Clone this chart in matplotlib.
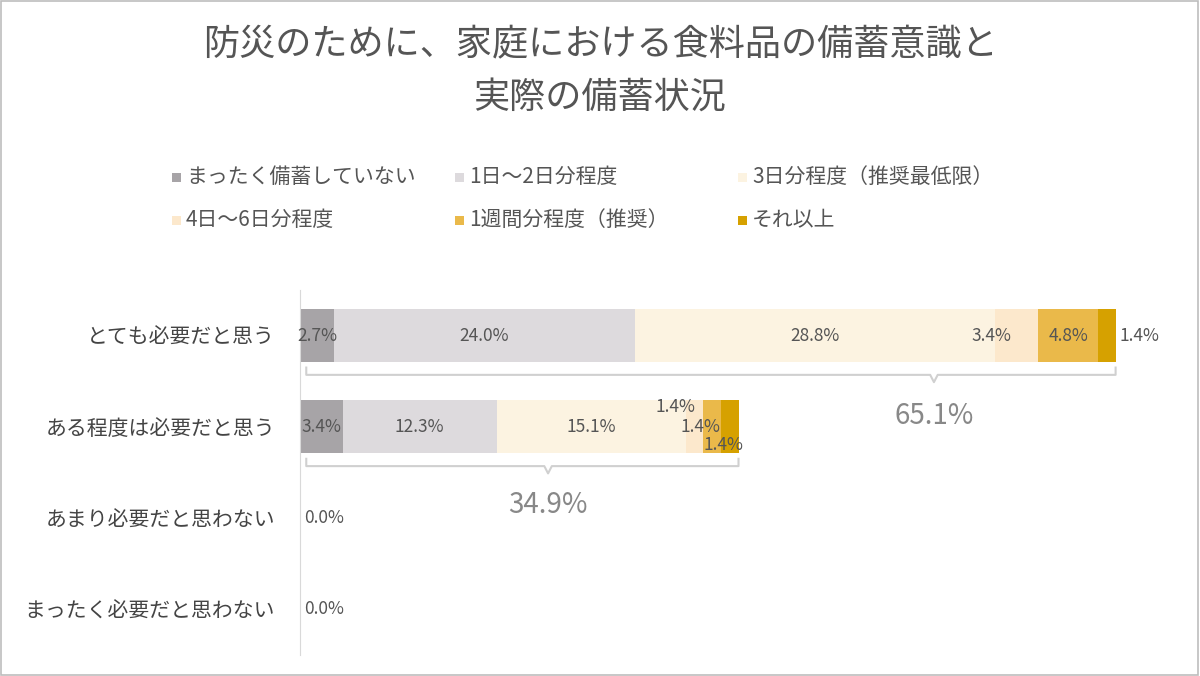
import matplotlib
matplotlib.use("Agg")
import matplotlib.pyplot as plt
from matplotlib.patches import Rectangle

plt.rcParams["font.family"] = "Noto Sans CJK JP"

categories = ["とても必要だと思う", "ある程度は必要だと思う", "あまり必要だと思わない", "まったく必要だと思わない"]
series = ["まったく備蓄していない", "1日～2日分程度", "3日分程度（推奨最低限）", "4日～6日分程度", "1週間分程度（推奨）", "それ以上"]
values = [
    [2.7, 24.0, 28.8, 3.4, 4.8, 1.4],
    [3.4, 12.3, 15.1, 1.4, 1.4, 1.4],
    [0, 0, 0, 0, 0, 0],
    [0, 0, 0, 0, 0, 0],
]
totals = [65.1, 34.9, 0.0, 0.0]
colors = ["#a7a4a7", "#dddadd", "#fcf3e1", "#fce8cc", "#eab94a", "#d6a100"]

W, H = 1200, 676
fig = plt.figure(figsize=(12, 6.76), dpi=100)
fig.patches.append(Rectangle((0.001, 0.001), 0.997, 0.997, transform=fig.transFigure,
                             fill=False, edgecolor="#bdbdbd", lw=1.2))
fig.text(0.5, 1 - 45 / H, "防災のために、家庭における食料品の備蓄意識と", ha="center", va="center", fontsize=26, color="#555555")
fig.text(0.5, 1 - 98 / H, "実際の備蓄状況", ha="center", va="center", fontsize=26, color="#555555")

leg_pos = [(172, 177), (455, 177), (738, 177), (172, 220), (455, 220), (738, 220)]
for (px, py), name, c in zip(leg_pos, series, colors):
    fig.patches.append(Rectangle((px / W, 1 - (py + 5) / H), 9 / W, 9 / H, transform=fig.transFigure,
                                 facecolor=c, edgecolor="none"))
    fig.text((px + 14) / W, 1 - py / H, name, ha="left", va="center", fontsize=15, color="#555555")

ax = fig.add_axes([300 / W, 1 - 655 / H, (1177 - 300) / W, (655 - 290) / H])
ax.set_xlim(0, 70)
ax.set_ylim(3.5, -0.5)
for s in ["top", "right", "bottom"]:
    ax.spines[s].set_visible(False)
ax.spines["left"].set_color("#d9d9d9")
ax.set_xticks([])
ax.set_yticks(range(4))
ax.set_yticklabels(categories, fontsize=15, color="#444444")
ax.tick_params(axis="y", length=0, pad=18)

fs = 12.5
for i, row in enumerate(values):
    left = 0
    for j, v in enumerate(row):
        if v > 0:
            ax.barh(i, v, left=left, height=0.58, color=colors[j], edgecolor="none")
        left += v
    if sum(row) == 0:
        ax.text(0.3, i, "0.0%", ha="left", va="center", fontsize=fs, color="#555555")

r0 = values[0]
cum = 0
for j, v in enumerate(r0):
    c = cum + v / 2
    if j == 3:
        c = cum - 0.3
    if j == 5:
        c = cum + v + 1.9
    ax.text(c, 0, f"{v:.1f}%", ha="center", va="center", fontsize=fs, color="#555555")
    cum += v
r1 = values[1]
cum = 0
for j, v in enumerate(r1):
    c = cum + v / 2
    dy = 0
    if j == 3:
        c, dy = cum - 0.8, -0.22
    elif j == 4:
        c, dy = cum - 0.2, 0.0
    elif j == 5:
        c, dy = cum + 0.2, 0.2
    ax.text(c, 1 + dy, f"{v:.1f}%", ha="center", va="center", fontsize=fs, color="#555555")
    cum += v

def brace(x0, x1, xm, y):
    d = 0.08
    xs = [x0, x0, xm - 0.3, xm, xm + 0.3, x1, x1]
    ys = [y - d, y, y, y + d, y, y, y - d]
    ax.plot(xs, ys, color="#d0d0d0", lw=1.5, clip_on=False)

brace(0.5, sum(values[0]), 50.6, 0.43)
brace(0.5, sum(values[1]), 19.8, 1.43)
ax.text(50.6, 0.88, f"{totals[0]:.1f}%", ha="center", va="center", fontsize=20, color="#888888")
ax.text(19.8, 1.86, f"{totals[1]:.1f}%", ha="center", va="center", fontsize=20, color="#888888")

fig.savefig("out.png", dpi=100)
